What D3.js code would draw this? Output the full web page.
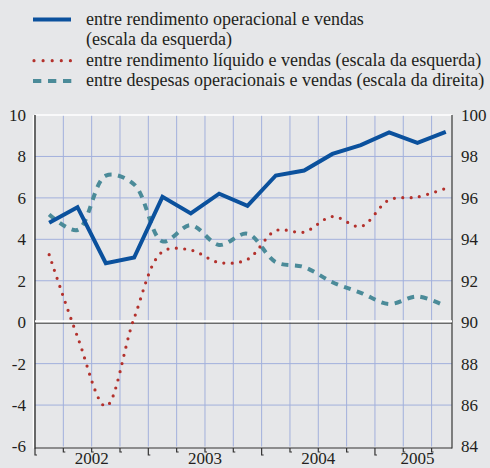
<!DOCTYPE html>
<html>
<head>
<meta charset="utf-8">
<script src="https://cdn.jsdelivr.net/npm/d3@7"></script>
<style>
  html, body { margin: 0; padding: 0; background: #e6e7e9; }
  svg { display: block; }
  text { font-family: "Liberation Serif", "Times New Roman", Times, serif; }
</style>
</head>
<body>
<div id="chart"></div>
<script>
// quarterly data, 2002 T1 .. 2005 T3
var quarters = ["2002-1", "2002-2", "2002-3", "2002-4",
                "2003-1", "2003-2", "2003-3", "2003-4",
                "2004-1", "2004-2", "2004-3", "2004-4",
                "2005-1", "2005-2", "2005-3"];
// left scale (%)
var opMargin  = [4.8, 5.55, 2.85, 3.12, 6.05, 5.25, 6.2, 5.62, 7.08, 7.32, 8.12, 8.55, 9.16, 8.66, 9.18];
var netMargin = [3.26, -0.7, -4.06, 0.2, 3.4, 3.48, 2.88, 3.03, 4.42, 4.35, 5.1, 4.62, 5.9, 6.04, 6.46];
// right scale (%)
var opExpenses = [95.2, 94.45, 97.07, 96.65, 93.9, 94.68, 93.73, 94.27, 92.9, 92.66, 91.93, 91.42, 90.88, 91.24, 90.77];

var leftTicks  = [-6, -4, -2, 0, 2, 4, 6, 8, 10];
var rightTicks = [84, 86, 88, 90, 92, 94, 96, 98, 100];
var yearLabels = ["2002", "2003", "2004", "2005"];
var legendLabels = [
    ["entre rendimento operacional e vendas", "(escala da esquerda)"],
    ["entre rendimento líquido e vendas (escala da esquerda)"],
    ["entre despesas operacionais e vendas (escala da direita)"]
];

(function () {
    var W = 490, H = 468;
    var mLeft = 35, mRight = 452, mTop = 115, mBottom = 446.5;
    var textColor = "#231f20";
    var blue = "#0b519d", red = "#b3312c", teal = "#4b8b99", grid = "#a2b0dc";

    var svg = d3.select("#chart").append("svg")
        .attr("width", W)
        .attr("height", H);

    svg.append("rect").attr("width", W).attr("height", H).attr("fill", "#e6e7e9");

    // time as decimal years, each quarter plotted in its middle
    function toTime(q) {
        var p = q.split("-");
        return +p[0] + (+p[1] - 0.5) / 4;
    }
    var times = quarters.map(toTime);

    var x = d3.scaleLinear().domain([2002, 2005.68]).range([mLeft, mRight]);
    var y = d3.scaleLinear().domain([-6, 10]).range([mBottom, mTop]);
    var y2 = d3.scaleLinear().domain([84, 100]).range([mBottom, mTop]);

    // grid
    var g = svg.append("g");
    var qBounds = d3.range(2002.25, 2005.51, 0.25);
    g.selectAll(".vgrid")
        .data(qBounds)
        .enter().append("line")
        .attr("x1", function (d) { return x(d); })
        .attr("x2", function (d) { return x(d); })
        .attr("y1", mTop)
        .attr("y2", mBottom)
        .attr("stroke", grid)
        .attr("stroke-width", 1);
    g.selectAll(".hgrid")
        .data(leftTicks.filter(function (d) { return d != 0 && d != -6 && d != 10; }))
        .enter().append("line")
        .attr("x1", mLeft)
        .attr("x2", mRight)
        .attr("y1", function (d) { return y(d); })
        .attr("y2", function (d) { return y(d); })
        .attr("stroke", grid)
        .attr("stroke-width", 1);

    // frame: white top, dark left / right / bottom
    g.append("line").attr("x1", mLeft).attr("x2", mRight).attr("y1", mTop).attr("y2", mTop)
        .attr("stroke", "#ffffff").attr("stroke-width", 1.5);
    g.append("line").attr("x1", mLeft - 1.5).attr("x2", mLeft - 1.5).attr("y1", mTop).attr("y2", mBottom + 2)
        .attr("stroke", "#ffffff").attr("stroke-width", 1.5);
    g.append("line").attr("x1", mLeft).attr("x2", mLeft).attr("y1", mTop).attr("y2", mBottom + 2)
        .attr("stroke", "#222").attr("stroke-width", 1.3);
    g.append("line").attr("x1", mRight).attr("x2", mRight).attr("y1", mTop).attr("y2", mBottom + 2)
        .attr("stroke", "#444").attr("stroke-width", 1.3);
    g.append("line").attr("x1", mLeft).attr("x2", mRight).attr("y1", mBottom + 1.5).attr("y2", mBottom + 1.5)
        .attr("stroke", "#333").attr("stroke-width", 1.2);

    // zero line
    g.append("line").attr("x1", mLeft).attr("x2", mRight).attr("y1", y(0) - 0.8).attr("y2", y(0) - 0.8)
        .attr("stroke", "#ffffff").attr("stroke-width", 2.2);
    g.append("line").attr("x1", mLeft).attr("x2", mRight).attr("y1", y(0) + 1).attr("y2", y(0) + 1)
        .attr("stroke", "#333").attr("stroke-width", 1);

    // x ticks at quarter boundaries, longer at year boundaries
    var tickTimes = d3.range(2002, 2005.51, 0.25);
    g.selectAll(".xtick")
        .data(tickTimes)
        .enter().append("path")
        .attr("d", function (d) {
            var isYear = Math.abs(d - Math.round(d)) < 1e-6;
            var len = isYear ? 7 : 4;
            return "M" + x(d) + "," + (mBottom + 1.5) + "v" + len + "h2";
        })
        .attr("fill", "none")
        .attr("stroke", "#333")
        .attr("stroke-width", 1.2);

    // tick labels
    svg.append("g").selectAll("text")
        .data(leftTicks)
        .enter().append("text")
        .attr("x", 26)
        .attr("y", function (d) { return y(d); })
        .attr("dy", "0.35em")
        .attr("text-anchor", "end")
        .attr("font-size", 17)
        .attr("fill", textColor)
        .text(function (d) { return d; });

    svg.append("g").selectAll("text")
        .data(rightTicks)
        .enter().append("text")
        .attr("x", 461)
        .attr("y", function (d) { return y2(d); })
        .attr("dy", "0.35em")
        .attr("text-anchor", "start")
        .attr("font-size", 17)
        .attr("fill", textColor)
        .text(function (d) { return d; });

    // year labels centred on the quarters present in the data
    svg.append("g").selectAll("text")
        .data(yearLabels)
        .enter().append("text")
        .attr("x", function (d) {
            var ts = times.filter(function (t) { return Math.floor(t) == +d; });
            var lo = d3.min(ts) - 0.125, hi = d3.max(ts) + 0.125;
            return x((lo + hi) / 2);
        })
        .attr("y", 463.5)
        .attr("text-anchor", "middle")
        .attr("font-size", 17)
        .attr("fill", textColor)
        .text(function (d) { return d; });

    // series
    var plot = svg.append("g");

    var lineTeal = d3.line()
        .x(function (d, i) { return x(times[i]); })
        .y(function (d) { return y2(d); })
        .curve(d3.curveCatmullRom.alpha(0.5));
    plot.append("path")
        .datum(opExpenses)
        .attr("d", lineTeal)
        .attr("fill", "none")
        .attr("stroke", teal)
        .attr("stroke-width", 4)
        .attr("stroke-dasharray", "7,6.5");

    var lineRed = d3.line()
        .x(function (d, i) { return x(times[i]); })
        .y(function (d) { return y(d); })
        .curve(d3.curveCatmullRom.alpha(0.5));
    plot.append("path")
        .datum(netMargin)
        .attr("d", lineRed)
        .attr("fill", "none")
        .attr("stroke", red)
        .attr("stroke-width", 3.2)
        .attr("stroke-linecap", "round")
        .attr("stroke-dasharray", "0,8.4");

    var lineBlue = d3.line()
        .x(function (d, i) { return x(times[i]); })
        .y(function (d) { return y(d); });
    plot.append("path")
        .datum(opMargin)
        .attr("d", lineBlue)
        .attr("fill", "none")
        .attr("stroke", blue)
        .attr("stroke-width", 4)
        .attr("stroke-linejoin", "miter");

    // legend
    var legend = svg.append("g");
    var legendY = [19.5, 60.7, 81];
    var legendBase = [[25, 45], [65.5], [86]];

    legend.append("line")
        .attr("x1", 33).attr("x2", 71)
        .attr("y1", legendY[0]).attr("y2", legendY[0])
        .attr("stroke", blue).attr("stroke-width", 4);
    legend.append("line")
        .attr("x1", 34).attr("x2", 71)
        .attr("y1", legendY[1]).attr("y2", legendY[1])
        .attr("stroke", red).attr("stroke-width", 3.2)
        .attr("stroke-linecap", "round")
        .attr("stroke-dasharray", "0,9.1");
    legend.append("line")
        .attr("x1", 33).attr("x2", 72)
        .attr("y1", legendY[2]).attr("y2", legendY[2])
        .attr("stroke", teal).attr("stroke-width", 4)
        .attr("stroke-dasharray", "8.3,6.7");

    legendLabels.forEach(function (lines, i) {
        lines.forEach(function (t, j) {
            legend.append("text")
                .attr("x", 86)
                .attr("y", legendBase[i][j])
                .attr("font-size", 18)
                .attr("fill", textColor)
                .text(t);
        });
    });
})();
</script>
</body>
</html>
